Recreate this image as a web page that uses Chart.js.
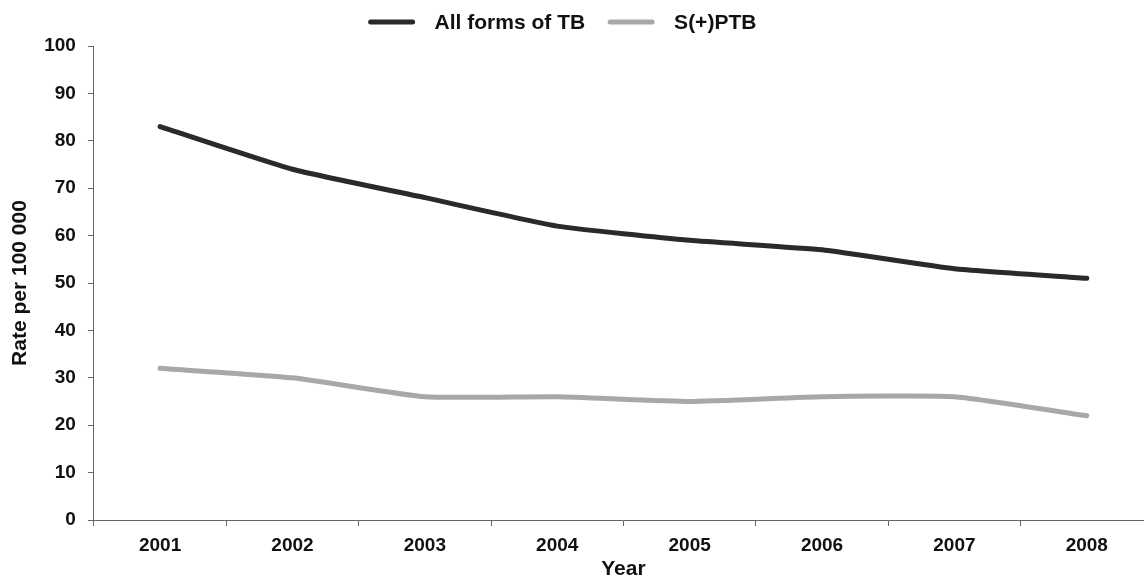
<!DOCTYPE html>
<html>
<head>
<meta charset="utf-8">
<script src="https://cdn.jsdelivr.net/npm/chart.js@4/dist/chart.umd.min.js"></script>
<style>
  html, body { margin: 0; padding: 0; background: #fff; overflow: hidden; }
  #wrap { width: 1158px; height: 582px; }
</style>
</head>
<body>
<div id="wrap"><canvas id="grafico" width="1158" height="582"></canvas></div>
<script>
// --- Dados ---
const anos = ['2001', '2002', '2003', '2004', '2005', '2006', '2007', '2008'];
const todasFormasTB = [83, 74, 68, 62, 59, 57, 53, 51];
const sPTB = [32, 30, 26, 26, 25, 26, 26, 22];
const ticksY = [0, 10, 20, 30, 40, 50, 60, 70, 80, 90, 100];

const fonte = 'Liberation Sans, Arial, sans-serif';
const corEixo = '#666';

// Legenda desenhada à mão, para acertar espaçamentos
const legendaTopo = {
  id: 'legendaTopo',
  afterDraw(chart) {
    const c = chart.ctx;
    const y = 22, amostra = 48, gapTexto = 19, gapItens = 22, centro = 562;
    c.save();
    c.font = 'bold 21px ' + fonte;
    c.textBaseline = 'middle';
    const itens = chart.data.datasets.map(ds => ({
      texto: ds.label, cor: ds.borderColor, w: c.measureText(ds.label).width
    }));
    const total = itens.reduce((s, it) => s + amostra + gapTexto + it.w, 0) + gapItens * (itens.length - 1);
    let x = centro - total / 2;
    itens.forEach(it => {
      c.strokeStyle = it.cor;
      c.lineWidth = 5;
      c.lineCap = 'round';
      c.beginPath();
      c.moveTo(x + 3, y);
      c.lineTo(x + amostra - 3, y);
      c.stroke();
      c.fillStyle = '#111';
      c.fillText(it.texto, x + amostra + gapTexto, y + 1);
      x += amostra + gapTexto + it.w + gapItens;
    });
    c.restore();
  }
};

const ctx = document.getElementById('grafico').getContext('2d');

new Chart(ctx, {
  type: 'line',
  data: {
    labels: anos,
    datasets: [
      {
        label: 'All forms of TB',
        data: todasFormasTB,
        borderColor: '#2a2a2a',
        backgroundColor: '#2a2a2a',
        borderWidth: 5,
        pointRadius: 0,
        tension: 0.15,
        borderCapStyle: 'round'
      },
      {
        label: 'S(+)PTB',
        data: sPTB,
        borderColor: '#a8a8a8',
        backgroundColor: '#a8a8a8',
        borderWidth: 5,
        pointRadius: 0,
        tension: 0.15,
        borderCapStyle: 'round'
      }
    ]
  },
  plugins: [legendaTopo],
  options: {
    responsive: false,
    animation: false,
    layout: { padding: { top: 46, left: 8, right: 5, bottom: 0 } },
    plugins: {
      legend: { display: false },
      tooltip: { enabled: false }
    },
    scales: {
      x: {
        offset: true,
        grid: {
          drawOnChartArea: false,
          drawTicks: true,
          tickLength: 6,
          color: corEixo,
          offset: true
        },
        border: { display: true, color: corEixo, dash: [2, 2], width: 1 },
        ticks: {
          color: '#111',
          padding: 8,
          font: { family: fonte, size: 19, weight: 'bold' }
        },
        title: {
          display: true,
          text: 'Year',
          color: '#111',
          padding: { top: -8, bottom: 0 },
          font: { family: fonte, size: 21, weight: 'bold' }
        }
      },
      y: {
        min: 0,
        max: 100,
        afterBuildTicks: (axis) => { axis.ticks = ticksY.map(v => ({ value: v })); },
        grid: {
          drawOnChartArea: false,
          drawTicks: true,
          tickLength: 6,
          color: corEixo
        },
        border: { display: true, color: corEixo, dash: [2, 2], width: 1 },
        ticks: {
          color: '#111',
          padding: 12,
          font: { family: fonte, size: 19, weight: 'bold' }
        },
        title: {
          display: true,
          text: 'Rate per 100 000',
          color: '#111',
          padding: { top: 0, bottom: -1 },
          font: { family: fonte, size: 21, weight: 'bold' }
        }
      }
    }
  }
});
</script>
</body>
</html>
